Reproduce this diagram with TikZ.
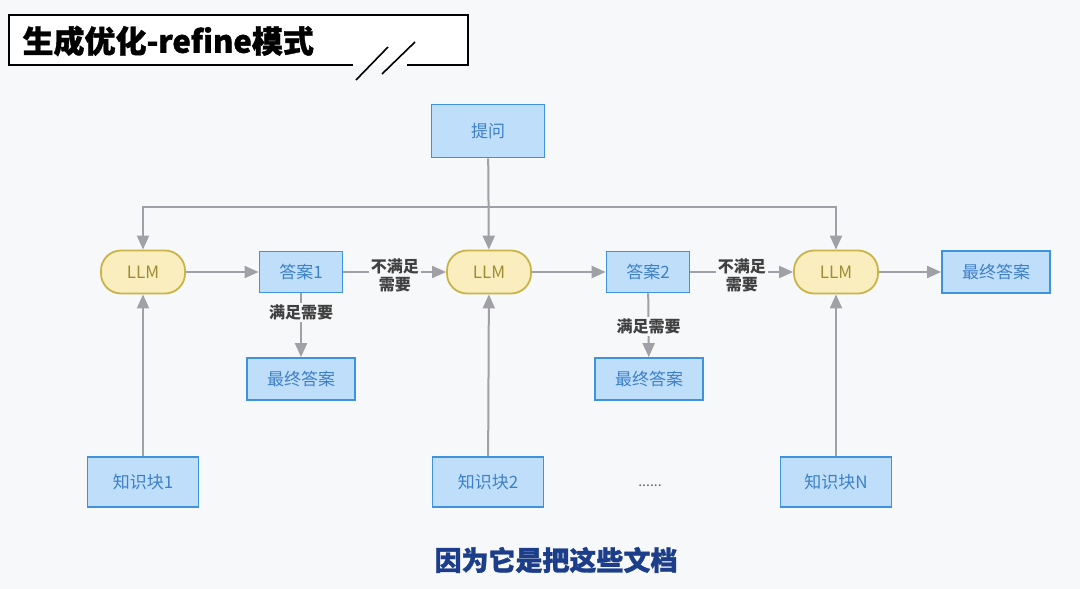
\documentclass[tikz,border=0pt]{standalone}
\usepackage{fontspec}
\setmainfont{Noto Sans CJK SC}
\newfontfamily\heavyfont[BoldFeatures={FakeBold=1.2}]{Noto Sans CJK SC}
\usepackage{tikz}
\usetikzlibrary{arrows.meta,positioning,calc}
\definecolor{bgc}{RGB}{247,248,250}
\definecolor{boxfill}{RGB}{191,222,250}
\definecolor{boxline}{RGB}{62,146,222}
\definecolor{boxtext}{RGB}{62,128,200}
\definecolor{llmfill}{RGB}{251,238,190}
\definecolor{llmline}{RGB}{200,180,72}
\definecolor{llmtext}{RGB}{158,140,52}
\definecolor{arrgray}{RGB}{160,160,166}
\definecolor{subblue}{RGB}{28,62,138}

\begin{document}
\begin{tikzpicture}[
  x=1pt, y=-1pt,
  font=\fontsize{17}{20}\selectfont,
  b/.style={rectangle, draw=boxline, fill=boxfill, line width=1.8pt,
            text=boxtext, inner sep=0pt},
  ans/.style={b, minimum width=83pt, minimum height=41pt},
  fin/.style={b, minimum width=108pt, minimum height=42pt},
  kb/.style={b, minimum width=111pt, minimum height=50pt},
  llm/.style={rectangle, rounded corners=20pt, draw=llmline, fill=llmfill,
              line width=1.8pt, text=llmtext, inner sep=0pt,
              minimum width=84pt, minimum height=43pt},
  lbl/.style={fill=bgc, text=black!75, inner sep=2pt, align=center,
              font=\fontsize{16}{18}\selectfont\bfseries},
  arr/.style={-{Triangle[length=14pt, width=12pt]}, line width=2pt, draw=arrgray},
  ln/.style={line width=2pt, draw=arrgray}
]
  \fill[bgc] (0,0) rectangle (1080,589);
  \useasboundingbox (0,0) rectangle (1080,589);

  % title
  \fill[white] (9,15) rectangle (468,65);
  \draw[line width=1.8pt, black] (353,65) -- (9,65) -- (9,15) -- (468,15) -- (468,65) -- (407,65);
  \draw[line width=1.6pt, black] (356,80) -- (388,47) (382,74) -- (415,42);
  \node[anchor=west, font=\fontsize{31}{34}\selectfont\heavyfont\bfseries] (title) at (19,41) {生成优化-refine模式};

  % nodes
  \node[b, minimum width=113pt, minimum height=53pt] (ask) at (488,131) {提问};
  \node[llm] (llm1) at (143,272) {LLM};
  \node[ans] (ans1) at (301,272) {答案1};
  \node[llm] (llm2) at (489,272) {LLM};
  \node[ans] (ans2) at (648,272) {答案2};
  \node[llm] (llm3) at (836,272) {LLM};
  \node[fin] (fin3) at (996,272) {最终答案};
  \node[fin] (fin1) at (301,379) {最终答案};
  \node[fin] (fin2) at (649,379) {最终答案};
  \node[kb] (kb1) at (143,482) {知识块1};
  \node[kb] (kb2) at (488,482) {知识块2};
  \node[kb] (kbn) at (836,482) {知识块N};
  \node[text=black!60, font=\fontsize{14}{16}\selectfont] (dots) at (650,486) {......};

  % connectors
  \coordinate (bus) at (489,207);
  \draw[arr] (ask) -- (llm2);
  \draw[arr] (bus) -| (llm1);
  \draw[arr] (bus) -| (llm3);
  \draw[arr] (llm1) -- (ans1);
  \draw[arr] (ans1) -- node[lbl, yshift=-3pt]{不满足\\需要} (llm2);
  \draw[arr] (ans1) -- node[lbl, pos=0.3]{满足需要} (fin1);
  \draw[arr] (llm2) -- (ans2);
  \draw[arr] (ans2) -- node[lbl, yshift=-3pt]{不满足\\需要} (llm3);
  \draw[arr] (ans2) -- node[lbl, pos=0.52]{满足需要} (fin2);
  \draw[arr] (llm3) -- (fin3);
  \draw[arr] (kb1) -- (llm1);
  \draw[arr] (kb2) -- (llm2);
  \draw[arr] (kbn) -- (llm3);

  % subtitle
  \node[text=subblue, font=\fontsize{27}{30}\selectfont\heavyfont\bfseries] (sub) at (556,560) {因为它是把这些文档};
\end{tikzpicture}
\end{document}
